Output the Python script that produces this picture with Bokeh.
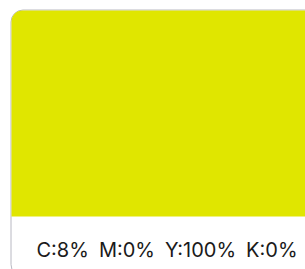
from bokeh.plotting import figure
from bokeh.models import Range1d
from bokeh.core.properties import value
from bokeh.embed import file_html
from bokeh.resources import INLINE

# Swatch data
channels = ["C", "M", "Y", "K"]
percents = [8, 0, 100, 0]
swatch_color = "#e0e600"

label = "\u2002".join(f"{c}:{v}%" for c, v in zip(channels, percents))

W, H = 305, 269
p = figure(width=W, height=H, output_backend="svg", toolbar_location=None,
           x_range=Range1d(0, W), y_range=Range1d(H, 0), min_border=0)
p.axis.visible = False
p.grid.visible = False
p.outline_line_color = None
p.background_fill_color = "white"
p.border_fill_color = "white"

# card
p.quad(left=[10.5], right=[340], top=[9.5], bottom=[276], border_radius=12,
       fill_color="white", line_color="#b8b8c2", line_width=1)
# colour swatch
p.quad(left=[11], right=[340], top=[10], bottom=[216], border_radius=(11, 11, 0, 0),
       fill_color=swatch_color, line_color=None)
# label
p.text(x=[36], y=[249], text=[label], text_font=value("Inter"), text_font_size="20px",
       text_color="#1a1a1a", text_baseline="alphabetic", text_align="left")

open("out.html", "w").write(file_html(p, INLINE))
